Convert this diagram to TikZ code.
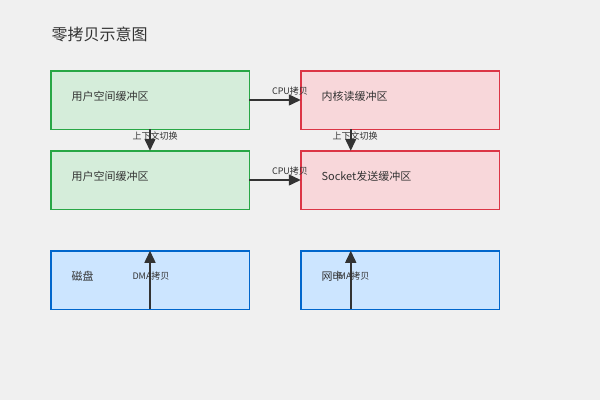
\documentclass[tikz,border=0pt]{standalone}
\usepackage{fontspec}
\setmainfont{Noto Sans CJK SC}
\usetikzlibrary{arrows.meta,positioning}
\definecolor{bgcol}{HTML}{F0F0F0}
\definecolor{usrfill}{HTML}{D5EDDA}
\definecolor{usrdraw}{HTML}{28A745}
\definecolor{krnfill}{HTML}{F8D7DA}
\definecolor{krndraw}{HTML}{DC3545}
\definecolor{devfill}{HTML}{CCE5FF}
\definecolor{devdraw}{HTML}{0066CC}
\definecolor{arrcol}{HTML}{333333}

\begin{document}
\begin{tikzpicture}[
    x=1pt, y=-1pt,
    box/.style={rectangle, draw, line width=1.5pt, minimum width=198.5pt, minimum height=58.5pt, outer sep=0pt, anchor=north west},
    user/.style={box, fill=usrfill, draw=usrdraw},
    kernel/.style={box, fill=krnfill, draw=krndraw},
    device/.style={box, fill=devfill, draw=devdraw},
    boxtext/.style={anchor=west, font=\fontsize{11}{13}\selectfont, text=arrcol},
    tag/.style={font=\fontsize{9}{11}\selectfont, text=arrcol},
    arrow/.style={-{Triangle[length=12pt,width=11pt]}, line width=1.5pt, draw=arrcol}
]
\fill[bgcol] (0,0) rectangle (600,400);

% Title
\node[anchor=west, font=\fontsize{16}{19}\selectfont, text=arrcol] (title) at (48,34) {零拷贝示意图};

% Buffers
\node[user] (ubuf1) at (50.75,70.75) {};
\node[user] (ubuf2) at (50.75,150.75) {};
\node[kernel] (kread) at (300.75,70.75) {};
\node[kernel] (ksock) at (300.75,150.75) {};
\node[device] (disk) at (50.75,250.75) {};
\node[device] (nic) at (300.75,250.75) {};

\node[boxtext] at (68,96) {用户空间缓冲区};
\node[boxtext] at (68,176) {用户空间缓冲区};
\node[boxtext] at (318,96) {内核读缓冲区};
\node[boxtext] at (318,176) {Socket发送缓冲区};
\node[boxtext] at (68,276) {磁盘};
\node[boxtext] at (318,276) {网卡};

% Arrows
\draw[arrow] (ubuf1.east) -- (kread.west);
\draw[arrow] (ubuf2.east) -- (ksock.west);
\draw[arrow] (ubuf1.south) -- (ubuf2.north);
\draw[arrow] ([xshift=50pt]kread.south west) -- ([xshift=50pt]ksock.north west);
\draw[arrow] (disk.south) -- (disk.north);
\draw[arrow] ([xshift=50pt]nic.south west) -- ([xshift=50pt]nic.north west);

% Labels
\node[tag] at (290,91) {CPU拷贝};
\node[tag] at (290,171) {CPU拷贝};
\node[tag] at (155,136) {上下文切换};
\node[tag] at (355,136) {上下文切换};
\node[tag] at (151,276) {DMA拷贝};
\node[tag] at (351,276) {DMA拷贝};
\end{tikzpicture}
\end{document}
